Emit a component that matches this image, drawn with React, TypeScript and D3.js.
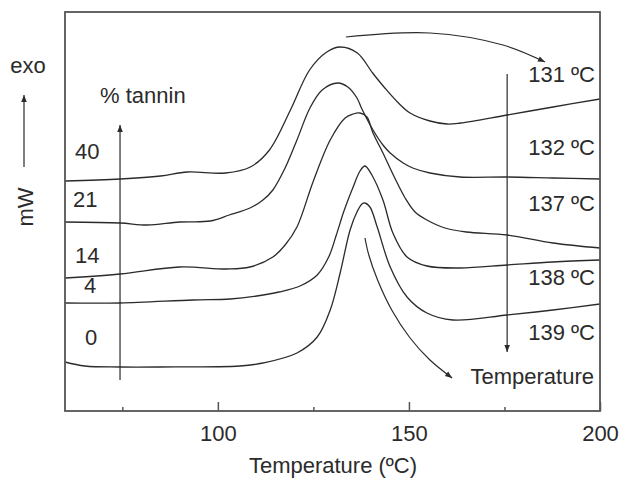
import * as d3 from 'd3';
import React, { useRef, useEffect } from 'react';

const width = 621;
const height = 482;
const margin = { top: 12, right: 21, bottom: 71, left: 65 };

// DSC curves: [temperature (ºC), heat flow (mW, offset)]
const tannin40: [number, number][] = [
  [60, 11.5], [74.4, 11.6], [85, 11.75], [92, 11.95], [102, 11.9], [108.5, 12.2],
  [113.5, 13.05], [119, 15.05], [124, 17.05], [128.5, 17.95], [132, 18.2], [136.5, 17.9],
  [140.5, 16.9], [143.7, 16.15], [147, 15.45], [150.3, 14.9], [155.5, 14.5], [160, 14.35],
  [163.5, 14.4], [175.7, 14.8], [187.7, 15.2], [200, 15.6],
];
const tannin21: [number, number][] = [
  [60, 9.45], [74.4, 9.4], [81.5, 9.3], [90, 9.45], [98, 9.5], [103, 9.8], [108.4, 10.15],
  [111.8, 10.55], [114.4, 11.05], [117.6, 12.15], [120.7, 13.55], [124.1, 15.15],
  [127.3, 16.05], [131.4, 16.4], [134, 16.2], [136.4, 15.65], [137.7, 15.1], [140.6, 14.05],
  [143.2, 13.3], [145.1, 12.9], [148.5, 12.4], [151, 12.15], [155.5, 11.9], [163.4, 11.7],
  [175.7, 11.7], [187.7, 11.65], [200, 11.6],
];
const tannin14: [number, number][] = [
  [60, 6.65], [74.4, 6.85], [90, 7.2], [102.4, 7.1], [108.4, 7.2], [114.4, 7.7],
  [117.6, 8.3], [120.7, 9.2], [124.9, 11.45], [129.4, 13.55], [133.3, 14.65], [135.4, 14.85],
  [137.2, 14.9], [139, 14.7], [140.6, 13.9], [143.2, 12.9], [146.3, 11.65], [149, 10.65],
  [151.6, 9.95], [154.7, 9.55], [159.4, 9.15], [165, 8.95], [175.7, 8.8], [187.7, 8.4], [200, 8.15],
];
const tannin4: [number, number][] = [
  [60, 5.4], [74.4, 5.4], [93.5, 5.55], [103.2, 5.6], [110.2, 5.75], [116, 5.95],
  [121.5, 6.25], [126, 6.8], [129, 7.7], [131, 8.8], [133, 10.0], [135.4, 11.2], [137.2, 12.0],
  [138.5, 12.25], [140.3, 11.8], [143.2, 10.55], [145.8, 8.9], [149.5, 7.7], [154.7, 7.25],
  [163.4, 7.15], [175.7, 7.3], [187.7, 7.45], [200, 7.55],
];
const tannin0: [number, number][] = [
  [60, 2.45], [65.2, 2.25], [74.4, 2.2], [84.9, 2.2], [105.8, 2.25], [111.8, 2.4],
  [120.7, 2.9], [126, 3.7], [129.4, 5.05], [132, 6.9], [134.6, 9.05], [136.4, 9.95],
  [137.7, 10.35], [138.5, 10.4], [139.8, 10.2], [141.7, 9.2], [145.1, 7.2], [149.5, 5.7],
  [154.7, 4.9], [161.5, 4.55], [175.7, 4.8], [187.7, 5.05], [200, 5.35],
];

const tanninLevels = ['40', '21', '14', '4', '0'];
const peakLabels = ['131 ºC', '132 ºC', '137 ºC', '138 ºC', '139 ºC'];
const majorTicks = [100, 150, 200];
const minorTicks = [75, 125, 175];

// annotation arrows in data space
const peakShiftArrow: [number, number][] = [[133.5, 18.7], [155.5, 18.9], [174.6, 18.3], [185.6, 17.45]];
const heatingArrow: [number, number][] = [[138.5, 8.65], [139.5, 7.8], [141.8, 6.55], [145.5, 5.05], [150.3, 3.65], [155.5, 2.55], [161.3, 1.65]];
const tanninArrow: [number, number][] = [[74.4, 1.55], [74.4, 14.3]];
const peakDownArrow: [number, number][] = [[175.7, 16.85], [175.7, 2.95]];

// label placement (px)
const tanninLabelXY = [[75, 159], [73, 207], [75, 263], [84, 293], [85, 345]];
const peakLabelY = [82, 155, 211, 285, 340];

function App() {
  const ref = useRef<SVGSVGElement>(null);

  useEffect(() => {
    const svg = d3.select(ref.current);
    svg.selectAll('*').remove();
    const font = 'Liberation Sans, Arial, Helvetica, sans-serif';
    const ink = '#2b2b2b';
    const size = '22px';

    const innerW = width - margin.left - margin.right;
    const innerH = height - margin.top - margin.bottom;

    const x = d3.scaleLinear().domain([60, 200]).range([0, innerW]);
    const y = d3.scaleLinear().domain([0, 19.95]).range([innerH, 0]);

    svg.append('defs').append('marker')
      .attr('id', 'head')
      .attr('viewBox', '0 0 10 10')
      .attr('refX', 10).attr('refY', 5)
      .attr('markerWidth', 9).attr('markerHeight', 7)
      .attr('markerUnits', 'userSpaceOnUse')
      .attr('orient', 'auto')
      .append('path').attr('d', 'M0,1 L10,5 L0,9 Z').attr('fill', ink);

    const g = svg.append('g').attr('transform', `translate(${margin.left},${margin.top})`);

    // curves
    const line = d3.line<[number, number]>()
      .x(d => x(d[0]))
      .y(d => y(d[1]))
      .curve(d3.curveCatmullRom.alpha(0.5));

    g.selectAll('path.curve')
      .data([tannin40, tannin21, tannin14, tannin4, tannin0])
      .join('path')
      .attr('class', 'curve')
      .attr('d', d => line(d))
      .attr('fill', 'none')
      .attr('stroke', ink)
      .attr('stroke-width', 1.3);

    // arrows
    const arrows = [peakShiftArrow, heatingArrow, tanninArrow, peakDownArrow];
    g.selectAll('path.arrow')
      .data(arrows)
      .join('path')
      .attr('class', 'arrow')
      .attr('d', d => line(d))
      .attr('fill', 'none')
      .attr('stroke', ink)
      .attr('stroke-width', 1.2)
      .attr('marker-end', 'url(#head)');

    // frame
    g.append('rect')
      .attr('x', 0).attr('y', 0)
      .attr('width', innerW).attr('height', innerH)
      .attr('fill', 'none')
      .attr('stroke', '#555')
      .attr('stroke-width', 1.8);

    // x axis (inward ticks)
    const major = g.append('g')
      .attr('transform', `translate(0,${innerH})`)
      .call(d3.axisBottom(x).tickValues(majorTicks).tickSize(-9).tickPadding(14).tickFormat(d3.format('d')));
    const minor = g.append('g')
      .attr('transform', `translate(0,${innerH})`)
      .call(d3.axisBottom(x).tickValues(minorTicks).tickSize(-4).tickFormat(() => ''));
    [major, minor].forEach(a => {
      a.select('.domain').remove();
      a.selectAll('line').attr('stroke', '#555').attr('stroke-width', 1.5);
    });
    major.selectAll('text')
      .attr('fill', ink)
      .style('font-family', font)
      .style('font-size', size);

    const text = (tx: number, ty: number, s: string, anchor = 'start') =>
      svg.append('text')
        .attr('x', tx).attr('y', ty)
        .attr('text-anchor', anchor)
        .attr('fill', ink)
        .style('font-family', font)
        .style('font-size', size)
        .text(s);

    text(333, 473, 'Temperature (ºC)', 'middle');
    text(28, 73, 'exo', 'middle');
    svg.append('text')
      .attr('transform', 'translate(33,207) rotate(-90)')
      .attr('text-anchor', 'middle')
      .attr('fill', ink)
      .style('font-family', font)
      .style('font-size', size)
      .text('mW');
    svg.append('line')
      .attr('x1', 24).attr('y1', 167).attr('x2', 24).attr('y2', 95)
      .attr('stroke', ink).attr('stroke-width', 1.2)
      .attr('marker-end', 'url(#head)');

    text(100, 103, '% tannin');
    tanninLevels.forEach((s, i) => text(tanninLabelXY[i][0], tanninLabelXY[i][1], s));
    peakLabels.forEach((s, i) => text(595, peakLabelY[i], s, 'end'));
    text(594, 384, 'Temperature', 'end');
  }, []);

  return (
    <svg ref={ref} width={width} height={height}
      style={{ position: 'absolute', left: 0, top: 0, background: '#fff' }} />
  );
}

export default App;
